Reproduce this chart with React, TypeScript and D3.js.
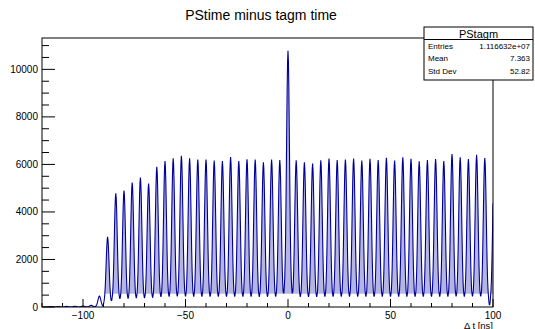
import React, { useEffect, useRef } from 'react';
import * as d3 from 'd3';

// bunch positions (ns) and peak heights
const peakTimes = [
  -116, -112, -108, -104, -100, -96, -92, -88, -84, -80, -76, -72, -68, -64, -60, -56,
  -52, -48, -44, -40, -36, -32, -28, -24, -20, -16, -12, -8, -4, 0, 4, 8, 12, 16, 20,
  24, 28, 32, 36, 40, 44, 48, 52, 56, 60, 64, 68, 72, 76, 80, 84, 88, 92, 96, 100.6,
];
const peakHeights = [
  15, 20, 25, 30, 40, 70, 460, 2950, 4780, 4900, 5240, 5450, 5190, 5900, 6140, 6260,
  6360, 6260, 6210, 6210, 6160, 6140, 6310, 6140, 6220, 6200, 6090, 6200, 6180, 10780, 6170, 6090, 6040, 6170, 6250,
  6180, 6210, 6250, 6160, 6240, 6180, 6280, 6160, 6300, 6240, 6130, 6180, 6230, 6140, 6440, 6300, 6230, 6400, 6270, 6150,
];
// relative peak profile at |dt| = 0, 0.2, 0.4 ... 2.4 ns
const profile = [1.0, 0.96, 0.86, 0.71, 0.55, 0.39, 0.26, 0.17, 0.11, 0.07, 0.035, 0.015, 0];
const profileStep = 0.2;
const binWidth = 0.05;

const yTicks = [0, 2000, 4000, 6000, 8000, 10000];
const xTicks = [-100, -50, 0, 50, 100];

const stats = [
  ['Entries', '1.116632e+07'],
  ['Mean', '7.363'],
  ['Std Dev', '52.82'],
];

const font = '"Liberation Sans", Arial, Helvetica, sans-serif';

function shape(dt: number) {
  const a = Math.abs(dt) / profileStep;
  const i = Math.floor(a);
  if (i >= profile.length - 1) return 0;
  const f = a - i;
  return profile[i] * (1 - f) + profile[i + 1] * f;
}

export default function App() {
  const ref = useRef<SVGSVGElement>(null);

  useEffect(() => {
    document.body.style.margin = '0';
    if (!ref.current) return;
    const svg = d3.select(ref.current);
    svg.selectAll('*').remove();

    const left = 42, right = 493, top = 38, bottom = 307;
    const x = d3.scaleLinear().domain([-120, 100]).range([left, right]);
    const y = d3.scaleLinear().domain([0, 11319]).range([bottom, top]);

    // histogram contents
    const bins: { t: number; v: number }[] = [];
    for (let t = -120; t <= 100 + 1e-9; t += binWidth) {
      let v = 0;
      peakTimes.forEach((p, k) => {
        if (Math.abs(t - p) < 2.4) v += peakHeights[k] * shape(t - p);
      });
      bins.push({ t, v });
    }

    svg.append('rect').attr('width', 535).attr('height', 329).attr('fill', '#fff');

    svg.append('defs').append('clipPath').attr('id', 'frame')
      .append('rect').attr('x', left).attr('y', top).attr('width', right - left).attr('height', bottom - top);

    const g = svg.append('g').attr('clip-path', 'url(#frame)');

    // light inner band of the dense bins
    g.append('path')
      .datum(bins)
      .attr('d', d3.area<{ t: number; v: number }>()
        .x(d => x(d.t))
        .y0(d => y(Math.min(d.v, 560)))
        .y1(d => y(d.v)))
      .attr('fill', 'rgba(50,50,175,0.36)');

    g.append('path')
      .datum(bins)
      .attr('d', d3.line<{ t: number; v: number }>().x(d => x(d.t)).y(d => y(d.v)))
      .attr('fill', 'none')
      .attr('stroke', '#000099')
      .attr('stroke-width', 1.1);

    // frame
    svg.append('rect')
      .attr('x', left).attr('y', top).attr('width', right - left).attr('height', bottom - top)
      .attr('fill', 'none').attr('stroke', '#000').attr('stroke-width', 1);

    // y axis ticks
    const yMinor = d3.range(0, 11319, 500);
    svg.append('g').selectAll('line').data(yMinor).enter().append('line')
      .attr('x1', left).attr('x2', d => left + (d % 2000 === 0 ? 13 : 7))
      .attr('y1', d => y(d)).attr('y2', d => y(d))
      .attr('stroke', '#000').attr('stroke-width', 1);
    svg.append('g').selectAll('text').data(yTicks).enter().append('text')
      .attr('x', left - 4).attr('y', d => y(d) + 3.5)
      .attr('text-anchor', 'end').attr('font-family', font).attr('font-size', 10)
      .text(d => String(d));

    // x axis ticks
    const xMinor = d3.range(-120, 101, 10);
    svg.append('g').selectAll('line').data(xMinor).enter().append('line')
      .attr('x1', d => x(d)).attr('x2', d => x(d))
      .attr('y1', bottom).attr('y2', d => bottom - (d % 50 === 0 ? 8 : 4))
      .attr('stroke', '#000').attr('stroke-width', 1);
    svg.append('g').selectAll('text').data(xTicks).enter().append('text')
      .attr('x', d => x(d)).attr('y', 318.5)
      .attr('text-anchor', 'middle').attr('font-family', font).attr('font-size', 10)
      .text(d => (d < 0 ? '\u2212' + Math.abs(d) : String(d)));

    svg.append('text')
      .attr('x', right).attr('y', 328.5).attr('text-anchor', 'end')
      .attr('font-family', font).attr('font-size', 9.5)
      .text('\u0394 t [ns]');

    // title
    svg.append('text')
      .attr('x', 261).attr('y', 20).attr('text-anchor', 'middle')
      .attr('font-family', font).attr('font-size', 14)
      .text('PStime minus tagm time');

    // stats box
    const bx = 424, by = 27, bw = 109, bh = 53;
    svg.append('rect').attr('x', bx).attr('y', by).attr('width', bw).attr('height', bh)
      .attr('fill', '#fff').attr('stroke', '#000').attr('stroke-width', 1);
    svg.append('line').attr('x1', bx).attr('x2', bx + bw).attr('y1', 39.5).attr('y2', 39.5)
      .attr('stroke', '#000').attr('stroke-width', 1);
    svg.append('text').attr('x', bx + bw / 2).attr('y', 37.5).attr('text-anchor', 'middle')
      .attr('font-family', font).attr('font-size', 11).text('PStagm');
    stats.forEach(([k, v], i) => {
      const ty = 48.5 + i * 12.5;
      svg.append('text').attr('x', bx + 4).attr('y', ty)
        .attr('font-family', font).attr('font-size', 8).text(k);
      svg.append('text').attr('x', bx + bw - 3).attr('y', ty).attr('text-anchor', 'end')
        .attr('font-family', font).attr('font-size', 8).text(v);
    });
  }, []);

  return <svg ref={ref} width={535} height={329} style={{ display: 'block' }} />;
}
